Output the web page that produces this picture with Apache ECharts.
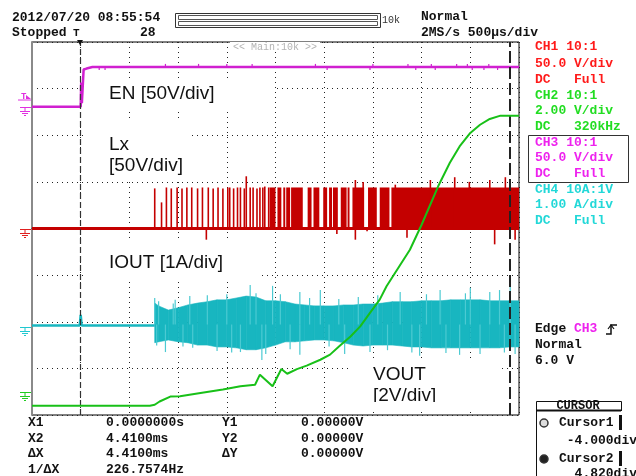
<!DOCTYPE html>
<html>
<head>
<meta charset="utf-8">
<script src="https://cdn.jsdelivr.net/npm/echarts@6/dist/echarts.min.js"></script>
<style>
html, body { margin: 0; padding: 0; background: #fff; }
#main { width: 636px; height: 476px; }
</style>
</head>
<body>
<div id="main"></div>
<script>
// time axis in ms (500us/div, trigger at 0)
const tMin = -0.5, tMax = 4.5, tStep = 0.5;
const cursorT = [0, 4.41];

// CH3 EN (V)
const enT = [-0.5, 0.0, 0.005, 0.012, 0.03, 0.06, 0.12, 4.5];
const enV = [0, 0, 26, 4, 40, 41, 42.6, 42.6];
const enSpikeT = [0.19, 0.25, 0.87, 1.21, 1.50, 1.76, 2.41, 2.53, 2.97, 3.00, 3.36, 3.44, 3.60, 3.64, 3.86, 3.97, 4.02, 4.14, 4.19, 4.28];
const enSpikeV = [39.5, 39.5, 46, 46, 46, 46, 46, 39.5, 39.5, 46, 46, 39.5, 46, 39.5, 46, 46, 39.5, 39.5, 46, 39.5];

// CH1 Lx (V)
const lxBaseT = [-0.5, 4.5];
const lxBaseV = [0, 0];
const lxPulseT = [0.76, 0.83, 0.88, 0.93, 0.99, 1.04, 1.09, 1.14, 1.20, 1.25, 1.31, 1.36, 1.41, 1.46, 1.51, 1.53, 1.57, 1.61, 1.64, 1.68, 1.70, 1.74, 1.77, 1.81, 1.84, 1.87, 1.89, 1.93];
const lxPulseV = [43, 28, 44, 43, 44, 43, 44, 44, 43, 44, 44, 43, 44, 43, 44, 44, 43, 44, 44, 43, 56, 44, 44, 43, 44, 44, 45, 44];
const lxBurstStart = [1.94, 2.02, 2.08, 2.11, 2.16, 2.33, 2.39, 2.49, 2.55, 2.59, 2.67, 2.74, 2.79, 2.95, 3.07, 3.19];
const lxBurstEnd   = [2.00, 2.06, 2.10, 2.15, 2.28, 2.37, 2.45, 2.53, 2.58, 2.64, 2.73, 2.76, 2.91, 3.04, 3.17, 4.50];
const lxBurstV     = [44, 44, 44, 44, 44, 44, 44, 44, 44, 44, 44, 44, 44, 44, 44, 44];
const lxSpikeT = [1.29, 2.63, 2.82, 2.82, 2.90, 2.94, 3.23, 3.35, 3.59, 3.84, 3.99, 4.20, 4.25, 4.36, 4.46];
const lxSpikeV = [-12, -6, 52, -12, 50, -3, 47, -10, 52, 55, 50, 52, -17, 55, -12];

// CH4 IOUT (A)
const ioutPreT = [-0.5, -0.01, 0.0, 0.01, 0.76];
const ioutPreV = [0.03, 0.03, 0.26, 0.03, 0.03];
const ioutEnvT = [0.76, 0.8, 0.9, 1.0, 1.1, 1.2, 1.3, 1.4, 1.5, 1.6, 1.7, 1.8, 1.9, 2.0, 2.1, 2.2, 2.3, 2.4, 2.5, 2.6, 2.7, 2.8, 2.9, 3.0, 3.1, 3.2, 3.3, 3.4, 3.5, 3.6, 3.7, 3.8, 3.9, 4.0, 4.1, 4.2, 4.3, 4.4, 4.5];
const ioutHi = [0.51, 0.45, 0.36, 0.41, 0.47, 0.51, 0.54, 0.58, 0.58, 0.62, 0.66, 0.64, 0.56, 0.56, 0.54, 0.49, 0.47, 0.45, 0.45, 0.45, 0.47, 0.47, 0.49, 0.49, 0.51, 0.54, 0.54, 0.54, 0.56, 0.56, 0.56, 0.58, 0.58, 0.58, 0.58, 0.56, 0.56, 0.56, 0.56];
const ioutLo = [-0.34, -0.32, -0.28, -0.32, -0.34, -0.39, -0.39, -0.43, -0.43, -0.45, -0.49, -0.49, -0.45, -0.39, -0.32, -0.32, -0.30, -0.28, -0.28, -0.30, -0.34, -0.39, -0.41, -0.39, -0.39, -0.39, -0.41, -0.43, -0.43, -0.45, -0.45, -0.45, -0.45, -0.45, -0.45, -0.45, -0.45, -0.43, -0.43];
const ioutSpikeT = [0.76, 0.78, 0.80, 0.87, 0.95, 0.97, 1.05, 1.12, 1.15, 1.30, 1.40, 1.50, 1.55, 1.64, 1.74, 1.80, 1.86, 1.90, 1.97, 2.05, 2.15, 2.25, 2.25, 2.35, 2.46, 2.55, 2.65, 2.71, 2.85, 2.97, 3.05, 3.15, 3.28, 3.40, 3.48, 3.55, 3.69, 3.75, 3.89, 3.95, 4.00, 4.10, 4.20, 4.30, 4.35, 4.41, 4.46];
const ioutSpikeV = [0.62, -0.40, 0.55, -0.54, 0.50, 0.58, -0.42, 0.66, -0.45, 0.68, -0.52, 0.70, -0.55, -0.54, 0.90, 0.72, -0.71, -0.58, 0.88, 0.70, -0.48, 0.75, -0.60, 0.62, 0.79, -0.42, 0.60, -0.58, 0.64, -0.54, 0.68, -0.50, 0.75, -0.55, -0.62, 0.70, 0.79, -0.56, -0.60, 0.72, 0.84, -0.58, 0.75, 0.79, -0.55, 0.90, -0.58];

// CH2 VOUT (V)
const voutT = [-0.5, 0.71, 0.76, 0.81, 0.92, 1.02, 1.23, 1.46, 1.64, 1.79, 1.84, 1.97, 2.06, 2.12, 2.22, 2.32, 2.46, 2.56, 2.66, 2.77, 2.87, 2.97, 3.07, 3.14, 3.38, 3.50, 3.67, 3.79, 3.89, 4.00, 4.10, 4.20, 4.31, 4.50];
const voutV = [-0.60, -0.60, -0.56, -0.42, -0.21, -0.20, -0.06, 0.09, 0.23, 0.30, 0.73, 0.23, 0.97, 0.77, 0.97, 1.12, 1.37, 1.59, 1.97, 2.37, 2.80, 3.38, 3.95, 4.52, 6.09, 7.16, 8.81, 9.82, 10.52, 11.10, 11.45, 11.70, 11.84, 11.84];

const trigLevel = 6.0;

// volts per division and ground position (divisions from centre)
const CH = {
  en:   { scale: 50, offset: 2.61,  color: '#d020d0', mark: '#e030e0' },
  lx:   { scale: 50, offset: 0,     color: '#c40000', mark: '#e02020' },
  iout: { scale: 1,  offset: -2.11, color: '#18b6c0', mark: '#20c8d0' },
  vout: { scale: 2,  offset: -3.50, color: '#18c018', mark: '#20cc20' }
};
function dv(ch, v) { return CH[ch].offset + v / CH[ch].scale; }

function linePts(ch, ts, vs) { return ts.map((t, i) => [t, dv(ch, vs[i])]); }

function rectSeries(items, color, minW, z) {
  return {
    type: 'custom', z: z, silent: true, data: items,
    encode: { x: [0, 1], y: [2, 3] },
    renderItem: function (params, api) {
      const a = api.coord([api.value(0), api.value(2)]);
      const b = api.coord([api.value(1), api.value(3)]);
      let x0 = Math.min(a[0], b[0]), x1 = Math.max(a[0], b[0]);
      if (x1 - x0 < minW) { const c = (x0 + x1) / 2; x0 = c - minW / 2; x1 = c + minW / 2; }
      const y0 = Math.min(a[1], b[1]), y1 = Math.max(a[1], b[1]);
      return { type: 'rect', shape: { x: x0, y: y0, width: x1 - x0, height: y1 - y0 }, style: { fill: color } };
    }
  };
}

// Lx items
const lxItems = [];
lxPulseT.forEach((t, i) => lxItems.push([t, t, dv('lx', 0), dv('lx', lxPulseV[i])]));
lxBurstStart.forEach((t, i) => lxItems.push([t, lxBurstEnd[i], dv('lx', 0), dv('lx', lxBurstV[i])]));
lxSpikeT.forEach((t, i) => lxItems.push([t, t, dv('lx', 0), dv('lx', lxSpikeV[i])]));

const enLevel = enV[enV.length - 1];
const enItems = enSpikeT.map((t, i) => [t, t, dv('en', enLevel), dv('en', enSpikeV[i])]);
const ioutSpikeItems = ioutSpikeT.map((t, i) => [t, t, dv('iout', 0.05), dv('iout', ioutSpikeV[i])]);

// IOUT envelope band segments
const bandItems = [];
for (let i = 0; i < ioutEnvT.length - 1; i++) {
  bandItems.push([ioutEnvT[i], dv('iout', ioutHi[i]), dv('iout', ioutLo[i]),
                  ioutEnvT[i + 1], dv('iout', ioutHi[i + 1]), dv('iout', ioutLo[i + 1])]);
}

const dotted = { color: '#222', width: 1, type: [1, 4] };
const chart = echarts.init(document.getElementById('main'));

const option = {
  animation: false,
  backgroundColor: '#fff',
  grid: { left: 32, top: 42, width: 487, height: 373, show: true, borderColor: '#000', borderWidth: 1, backgroundColor: 'transparent' },
  xAxis: {
    type: 'value', min: tMin, max: tMax, interval: tStep,
    axisLabel: { show: false }, axisTick: { show: false },
    axisLine: { show: true, lineStyle: { color: '#222', width: 1 } },
    splitLine: { show: true, lineStyle: dotted }
  },
  yAxis: {
    type: 'value', min: -4, max: 4, interval: 1,
    axisLabel: { show: false }, axisTick: { show: false },
    axisLine: { show: true, onZero: false, lineStyle: { color: '#8a8a8a', width: 2 } },
    splitLine: { show: true, lineStyle: dotted }
  },
  series: [
    {
      type: 'line', z: 2, symbol: 'none', silent: true,
      data: linePts('iout', ioutPreT, ioutPreV),
      lineStyle: { color: CH.iout.color, width: 2.5 }
    },
    {
      type: 'custom', z: 2, silent: true, data: bandItems,
      encode: { x: [0, 3], y: [1, 2, 4, 5] },
      renderItem: function (params, api) {
        const p1 = api.coord([api.value(0), api.value(1)]);
        const p2 = api.coord([api.value(3), api.value(4)]);
        const p3 = api.coord([api.value(3), api.value(5)]);
        const p4 = api.coord([api.value(0), api.value(2)]);
        return { type: 'polygon', shape: { points: [p1, p2, p3, p4] },
                 style: { fill: CH.iout.color, stroke: CH.iout.color, lineWidth: 0.6 } };
      }
    },
    rectSeries(ioutSpikeItems, '#4ccad2', 1.2, 2),
    {
      type: 'line', z: 3, symbol: 'none', silent: true,
      data: linePts('lx', lxBaseT, lxBaseV),
      lineStyle: { color: CH.lx.color, width: 3 }
    },
    rectSeries(lxItems, CH.lx.color, 1.6, 3),
    {
      type: 'line', z: 4, symbol: 'none', silent: true,
      data: linePts('en', enT, enV),
      lineStyle: { color: CH.en.color, width: 2.5 }
    },
    rectSeries(enItems, CH.en.color, 1.2, 4),
    {
      type: 'line', z: 5, symbol: 'none', silent: true,
      data: linePts('vout', voutT, voutV),
      lineStyle: { color: CH.vout.color, width: 2 },
      markLine: {
        silent: true, symbol: ['none', 'none'], label: { show: false },
        data: [
          { xAxis: cursorT[0], lineStyle: { color: '#333', width: 1.2, type: [6, 3] } },
          { xAxis: cursorT[1], lineStyle: { color: '#222', width: 2, type: [12, 4] } }
        ]
      }
    }
  ]
};
chart.setOption(option);

// ---- texts and panel decorations ----
const mono = 'bold 13px "Liberation Mono", "DejaVu Sans Mono", monospace';
const sans = '19px "Liberation Sans", Arial, sans-serif';
const G = [];
function txt(x, y, s, color, font, z, align) {
  G.push({ type: 'text', z: z || 60, silent: true,
    style: { text: s, x: x, y: y, fill: color || '#111', font: font || mono,
             textAlign: align || 'left', textVerticalAlign: 'middle' } });
}
function box(x, y, w, h, fill, stroke, z, lw) {
  G.push({ type: 'rect', z: z || 60, silent: true, shape: { x: x, y: y, width: w, height: h },
    style: { fill: fill || 'none', stroke: stroke || 'none', lineWidth: lw || 1 } });
}
function seg(pts, color, lw, z) {
  G.push({ type: 'polyline', z: z || 60, silent: true, shape: { points: pts },
    style: { stroke: color, lineWidth: lw || 1, fill: 'none' } });
}

// header
txt(12, 18, '2012/07/20 08:55:54');
txt(12, 33, 'Stopped');
txt(73, 33, 'T', '#111', 'bold 11px "Liberation Mono", monospace');
G.push({ type: 'polygon', z: 60, silent: true, shape: { points: [[77, 40], [83, 40], [80, 45]] }, style: { fill: '#111' } });
txt(140, 33, '28');
box(175.5, 13.5, 205, 14, 'none', '#333');
box(178.5, 15.5, 199, 4, 'none', '#555');
box(178.5, 21.5, 199, 4, 'none', '#555');
txt(382, 20, '10k', '#333', '10px "Liberation Mono", monospace');
txt(421, 17, 'Normal');
txt(421, 33, '2MS/s 500µs/div');
box(230, 42, 90, 10, '#fff', 'none', 1);
txt(233, 47, '<< Main:10k >>', '#b4b4b4', '10px "Liberation Mono", monospace', 1);

// right panel
const panel = [
  ['CH1 10:1', '#ff1a1a', 47], ['50.0 V/div', '#ff1a1a', 64], ['DC   Full', '#ff1a1a', 80],
  ['CH2 10:1', '#22dd22', 96], ['2.00 V/div', '#22dd22', 111], ['DC   320kHz', '#22dd22', 127],
  ['CH3 10:1', '#ee22ee', 143], ['50.0 V/div', '#ee22ee', 158], ['DC   Full', '#ee22ee', 174],
  ['CH4 10A:1V', '#22d8d8', 190], ['1.00 A/div', '#22d8d8', 205], ['DC   Full', '#22d8d8', 221]
];
panel.forEach(p => txt(535, p[2], p[0], p[1]));
box(528.5, 135.5, 100, 47, 'none', '#333');
G.push({ type: 'text', z: 60, silent: true,
  style: { x: 535, y: 329, textVerticalAlign: 'middle', font: mono, fill: '#111',
           text: 'Edge {m|CH3}', rich: { m: { fill: '#ee22ee', font: mono } } } });
seg([[606, 334], [611, 334], [611, 325], [617, 325]], '#111', 1.5);
seg([[608, 329], [611, 325], [614, 329]], '#111', 1.2);
txt(535, 345, 'Normal');
txt(535, 361, '6.0 V');

// cursor panel
seg([[536.5, 476], [536.5, 401.5], [621.5, 401.5], [621.5, 411]], '#111', 1);
seg([[536, 410.5], [621, 410.5]], '#111', 2);
txt(578, 405.5, 'CURSOR', '#111', 'bold 12px "Liberation Mono", monospace', 60, 'center');
box(619, 415, 3, 15, '#111', 'none');
box(619, 451, 3, 15, '#111', 'none');
G.push({ type: 'circle', z: 60, silent: true, shape: { cx: 544, cy: 423, r: 4 }, style: { fill: '#ddd', stroke: '#333', lineWidth: 1.5 } });
G.push({ type: 'circle', z: 60, silent: true, shape: { cx: 544, cy: 459, r: 4 }, style: { fill: '#222', stroke: '#333', lineWidth: 1.5 } });
txt(559, 423, 'Cursor1');
txt(637, 441, '-4.000div', '#111', mono, 60, 'right');
txt(559, 459, 'Cursor2');
txt(637, 474, '4.820div', '#111', mono, 60, 'right');

// cursor readouts
const rows = [
  ['X1', '0.0000000s', 'Y1', '0.00000V', 423],
  ['X2', '4.4100ms', 'Y2', '0.00000V', 439],
  ['ΔX', '4.4100ms', 'ΔY', '0.00000V', 454],
  ['1/ΔX', '226.7574Hz', '', '', 470]
];
rows.forEach(r => { txt(28, r[4], r[0]); txt(106, r[4], r[1]); txt(222, r[4], r[2]); txt(301, r[4], r[3]); });

// trace labels on white boxes (cover the grid, under the traces)
box(87, 78, 188, 34, '#fff', 'none', 1);
txt(109, 94, 'EN [50V/div]', '#111', sans);
box(87, 121, 103, 61, '#fff', 'none', 1);
txt(109, 145, 'Lx', '#111', sans);
txt(109, 166, '[50V/div]', '#111', sans);
box(87, 241, 173, 41, '#fff', 'none', 1);
txt(109, 263, 'IOUT [1A/div]', '#111', sans);
box(350, 360, 148, 50, '#fff', 'none', 1);
txt(373, 375, 'VOUT', '#111', sans);
txt(373, 396, '[2V/div]', '#111', sans);
box(350, 402, 148, 9, '#fff', 'none', 61);

// ground and trigger markers on the left edge
Object.keys(CH).forEach(k => {
  const gy = Math.round(chart.convertToPixel({ gridIndex: 0 }, [tMin, CH[k].offset])[1]) + 0.5;
  const c = CH[k].mark;
  seg([[20, gy], [31, gy]], c, 1);
  seg([[25, gy], [25, gy + 4]], c, 1);
  seg([[20, gy + 4], [30, gy + 4]], c, 1);
  seg([[22, gy + 6], [28, gy + 6]], c, 1);
  seg([[24, gy + 8], [26, gy + 8]], c, 1);
});
const ty = Math.round(chart.convertToPixel({ gridIndex: 0 }, [tMin, dv('en', trigLevel)])[1]) - 3;
txt(21, ty - 1, 'T', CH.en.mark, 'bold 9px "Liberation Mono", monospace');
G.push({ type: 'polygon', z: 60, silent: true, shape: { points: [[26, ty - 3], [31, ty + 1], [26, ty + 1]] }, style: { fill: CH.en.mark } });
seg([[18, ty + 2], [31, ty + 2]], CH.en.mark, 1);

chart.setOption({ graphic: G });
</script>
</body>
</html>
